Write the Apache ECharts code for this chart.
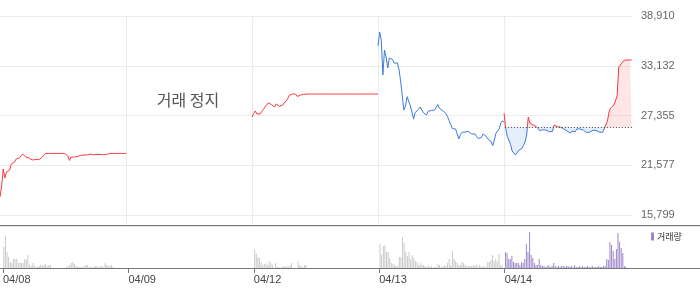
<!DOCTYPE html>
<html><head><meta charset="utf-8">
<script src="https://cdn.jsdelivr.net/npm/echarts@6/dist/echarts.min.js"></script>
<style>html,body{margin:0;padding:0;background:#fff}#c{width:700px;height:289px}</style>
</head><body><div id="c"></div>
<script>
// ---- data ----
const dayLabels = ['04/08', '04/09', '04/12', '04/13', '04/14'];
const slotsPerDay = 78;               // 5-minute slots per trading day
const yTicks = [15799, 21577, 27355, 33132, 38910];
const prevClose0414 = 26000;          // baseline for 04/14
const haltText = '거래 정지';

const price0408 = [17890,19170,21140,20100,20790,20790,21020,21720,21720,21950,
  22300,22420,22420,22530,22880,22650,22530,22530,22420,22530,
  22190,22010,22240,22240,22240,22360,22480,22710,22950,22950,
  22950,22950,22950,22950,22950,22950,22950,22950,22950,22950,
  22950,22950,22650,22130,22530,22420,22530,22590,22590,22650,
  22730,22650,22770,22880,22770,22800,22880,22800,22800,22880,
  22830,22880,22830,22730,22800,22650,22830,22940,22950,22950,
  22950,22950,22950,22950,22950,22950,22950,22950,22950];
const price0409 = [];
const price0412 = [27180,27590,27880,27530,27300,27530,27800,28050,28340,28340,
  28810,28860,28630,28400,28340,28690,28570,28420,28400,28570,
  28810,29040,29270,29680,29850,29850,29850,29850,29560,29560,
  29740,29740,29800,29850,29850,29850,29850,29850,29850,29850,
  29850,29850,29850,29850,29850,29850,29850,29850,29850,29850,
  29850,29850,29850,29850,29850,29850,29850,29850,29850,29850,
  29850,29850,29850,29850,29850,29850,29850,29850,29850,29850,
  29850,29850,29850,29850,29850,29850,29850,29850,29850];
const price0413 = [35430,37050,36120,32060,34960,34150,32870,34030,34000,33860,
  33450,33300,33450,32640,31360,29620,27990,28460,29540,29390,
  28460,27760,26950,27700,27530,28050,28340,28110,27700,27760,
  27410,27840,27820,27940,27940,27990,28110,28630,28190,27990,
  27910,27760,27590,27240,26770,26600,25840,25670,25790,25210,
  24630,25150,25400,25550,25440,25500,25500,25400,25210,25380,
  25210,24920,24680,24510,24800,25210,25320,24920,24630,24510,
  24330,23870,24510,25290,25500,25790,26480,26720,26600];
const price0414 = [27640,25900,24920,24510,23990,23230,23120,22770,22880,23290,
  23230,23520,23870,24280,25090,27180,26480,26430,26250,26140,
  26080,25960,25610,25840,25690,25730,25670,25550,25470,25470,
  25520,26250,26100,26050,26050,26020,25870,25790,25670,25550,
  25380,25300,25550,25470,25470,25790,25840,25790,25870,25670,
  25550,25380,25320,25420,25550,25640,25500,25610,25500,25420,
  25470,25400,25550,26250,26720,27760,28230,28460,28570,28690,
  29620,32990,33100,33450,33740,33800,33800,33800,33800,33800];

const volume0408 = [21,32,16,11,6,5,9,9,9,5, 5,5,5,9,8,13,3,2,5,3,
  1,1,2,3,2,3,4,2,3,3, 0,0,0,0,0,0,0,0,0,1, 2,3,5,6,4,2,1,1,1,1,
  2,3,3,1,1,1,1,2,2,1, 2,2,1,5,3,2,2,3,1,0];
const volume0409 = [];
const volume0412 = [18,14,11,10,6,3,4,5,3,7, 5,3,0,5,1,1,0,1,2,1,
  2,1,3,5,0,0,0,7,3,2, 1,3,3];
const volume0413 = [24,13,22,23,16,16,10,5,4,3, 2,2,11,11,31,25,16,12,16,9,
  13,10,7,6,3,5,3,3,2,1, 3,1,2,1,1,1,4,3,1,1, 3,2,5,9,3,17,9,7,5,3,
  3,6,5,3,2,2,2,2,3,2, 3,1,3,1,2,1,1,6,6,8, 13,7,9,6,14,3,2,0];
const volume0414 = [16,15,9,9,12,6,5,5,5,3, 6,5,9,24,16,36,13,10,5,3,
  3,9,3,2,2,1,2,3,1,2, 5,2,1,2,1,2,2,1,2,2, 1,2,1,3,1,1,2,1,2,1,
  1,2,1,1,2,1,1,1,2,1, 1,2,2,9,8,26,23,17,9,19, 35,26,20,15,2,1];

// ---- styling / layout ----
const RED = '#f73b3f', BLUE = '#3b7bd8', GRAY_BAR = '#c9c9c9', PURPLE = '#9c86cc';
const xMax = 391.2, yMin = 14637, yMax = 38910, volMax = 42;

const priceDays = [price0408, price0409, price0412, price0413, price0414];
const volDays = [volume0408, volume0409, volume0412, volume0413, volume0414];
const toPts = (arr, d) => arr.map((v, i) => [d * slotsPerDay + i, v]);
const dayStarts = dayLabels.map((_, d) => d * slotsPerDay);
const fmt = v => String(Math.round(v)).replace(/\B(?=(\d{3})+(?!\d))/g, ',');

const lineBase = {type: 'line', xAxisIndex: 0, yAxisIndex: 0, showSymbol: false, symbol: 'none',
  lineStyle: {width: 1}, silent: true, z: 3};

const barData = [];
volDays.forEach((arr, d) => arr.forEach((v, i) => {
  const item = {value: [d * slotsPerDay + i + 0.5, v]};
  if (d !== volDays.length - 1) item.itemStyle = {color: GRAY_BAR};
  barData.push(item);
}));

const option = {
  animation: false,
  backgroundColor: '#fff',
  grid: [
    {left: 0, top: 16, width: 632, height: 209},
    {left: 0, top: 226, width: 632, height: 42}
  ],
  xAxis: [
    {type: 'value', gridIndex: 0, min: 0, max: xMax,
      axisLine: {show: false}, axisTick: {show: false, customValues: dayStarts.slice(1)},
      axisLabel: {show: false}, splitLine: {show: true, lineStyle: {color: '#ebebeb'}}},
    {type: 'value', gridIndex: 1, min: 0, max: xMax,
      axisLine: {show: false},
      axisTick: {show: true, length: 5, customValues: dayStarts, lineStyle: {color: '#777'}},
      axisLabel: {customValues: dayStarts, formatter: v => dayLabels[Math.round(v / slotsPerDay)],
        align: 'left', margin: 6, fontSize: 11, color: '#444', fontFamily: 'Liberation Sans, Arial, sans-serif'},
      splitLine: {show: false}}
  ],
  yAxis: [
    {type: 'value', gridIndex: 0, position: 'right', min: yMin, max: yMax,
      axisLine: {show: false}, axisTick: {show: false, customValues: yTicks},
      axisLabel: {customValues: yTicks, formatter: fmt, margin: 9, fontSize: 11, color: '#666',
        fontFamily: 'Liberation Sans, Arial, sans-serif'},
      splitLine: {show: true, lineStyle: {color: '#ebebeb'}}},
    {type: 'value', gridIndex: 1, min: 0, max: volMax, show: false, splitLine: {show: false}}
  ],
  visualMap: {type: 'piecewise', show: false, seriesIndex: 3, dimension: 1,
    pieces: [{gt: prevClose0414, lte: 100000, color: RED}, {gte: 0, lte: prevClose0414, color: BLUE}],
    outOfRange: {color: BLUE}},
  legend: {data: ['거래량'], left: 651, top: 232, padding: 0, itemWidth: 3, itemHeight: 8,
    icon: 'rect', selectedMode: false,
    textStyle: {fontSize: 9, color: '#333', fontFamily: 'Noto Sans CJK KR', padding: [0, 0, 0, -2]}},
  graphic: [
    {type: 'line', shape: {x1: 0, y1: 225.5, x2: 700, y2: 225.5}, style: {stroke: '#777', lineWidth: 1}, z: 10},
    {type: 'line', shape: {x1: 0, y1: 226.5, x2: 700, y2: 226.5}, style: {stroke: '#e6e6e6', lineWidth: 1}, z: 9},
    {type: 'line', shape: {x1: 0, y1: 268.5, x2: 700, y2: 268.5}, style: {stroke: '#777', lineWidth: 1}, z: 10},
    {type: 'text', x: 188, y: 100, style: {text: haltText, fill: '#555', fontSize: 16,
      fontFamily: 'Noto Sans CJK KR', align: 'center', verticalAlign: 'middle'}}
  ],
  series: [
    Object.assign({}, lineBase, {name: 'p0408', data: toPts(price0408, 0), color: RED}),
    Object.assign({}, lineBase, {name: 'p0412', data: toPts(price0412, 2), color: RED}),
    Object.assign({}, lineBase, {name: 'p0413', data: toPts(price0413, 3), color: BLUE}),
    Object.assign({}, lineBase, {name: 'p0414', data: toPts(price0414, 4),
      areaStyle: {origin: prevClose0414, opacity: 0.13},
      markLine: {silent: true, symbol: ['none', 'none'], label: {show: false},
        lineStyle: {type: [1, 2], color: '#444', width: 1},
        data: [[{coord: [4 * slotsPerDay + 0.5, prevClose0414]}, {coord: [xMax, prevClose0414]}]]}}),
    {type: 'bar', name: '거래량', xAxisIndex: 1, yAxisIndex: 1, barWidth: 1, color: PURPLE,
      data: barData, silent: true}
  ]
};
echarts.init(document.getElementById('c'), null, {renderer: 'canvas'}).setOption(option);
</script></body></html>
